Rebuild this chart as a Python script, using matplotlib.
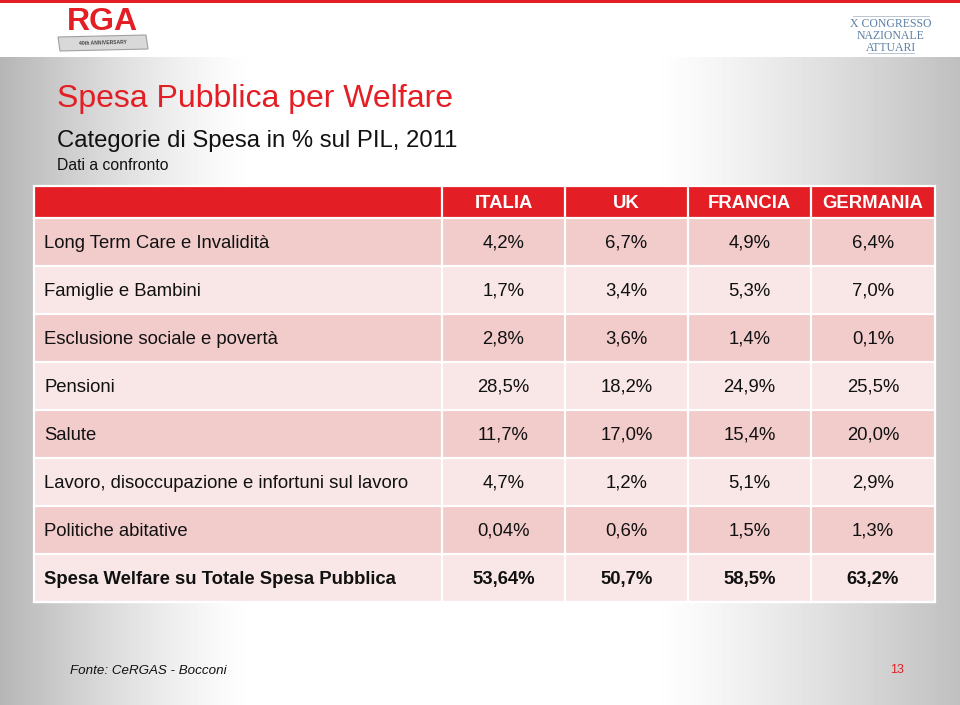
import numpy as np
import matplotlib
matplotlib.use("Agg")
import matplotlib.pyplot as plt
from matplotlib.patches import Rectangle, Polygon

plt.rcParams['font.family'] = ['Liberation Sans', 'DejaVu Sans']

# ---- data ----
title = "Spesa Pubblica per Welfare"
subtitle = "Categorie di Spesa in % sul PIL, 2011"
subsubtitle = "Dati a confronto"
countries = ["ITALIA", "UK", "FRANCIA", "GERMANIA"]
categories = [
    "Long Term Care e Invalidità",
    "Famiglie e Bambini",
    "Esclusione sociale e povertà",
    "Pensioni",
    "Salute",
    "Lavoro, disoccupazione e infortuni sul lavoro",
    "Politiche abitative",
    "Spesa Welfare su Totale Spesa Pubblica",
]
italia = ["4,2%", "1,7%", "2,8%", "28,5%", "11,7%", "4,7%", "0,04%", "53,64%"]
uk = ["6,7%", "3,4%", "3,6%", "18,2%", "17,0%", "1,2%", "0,6%", "50,7%"]
francia = ["4,9%", "5,3%", "1,4%", "24,9%", "15,4%", "5,1%", "1,5%", "58,5%"]
germania = ["6,4%", "7,0%", "0,1%", "25,5%", "20,0%", "2,9%", "1,3%", "63,2%"]
source = "Fonte: CeRGAS - Bocconi"
page = "13"

W, H = 960, 705
fig = plt.figure(figsize=(W / 100, H / 100), dpi=100)
ax = fig.add_axes([0, 0, 1, 1])
ax.set_xlim(0, W)
ax.set_ylim(H, 0)
ax.axis('off')

# ---- background gradient ----
x = np.arange(W)
left = np.clip(1 - x / 255.0, 0, 1)
right = np.clip((x - 650) / 310.0, 0, 1)
shade = 1 - 0.29 * left ** 1.3 - 0.25 * right ** 1.2
bg = np.tile(shade, (H, 1))
bg[:57, :] = 1.0
ax.imshow(bg, cmap='gray', vmin=0, vmax=1, extent=(0, W, H, 0), aspect='auto', zorder=0)
ax.add_patch(Rectangle((0, 0), W, 2.5, color='#e31e24', lw=0, zorder=1))

# ---- logos ----
ax.text(102, 22, "RGA", color='#e31e24', fontsize=23, fontweight='bold',
        ha='center', va='center', zorder=2)
ax.add_patch(Polygon([[58, 37], [146, 35], [148, 49], [60, 51]], closed=True,
                     facecolor='#d9d9d9', edgecolor='#a0a0a0', lw=0.8, zorder=2))
ax.text(103, 43, "40th ANNIVERSARY", color='#444444', fontsize=3.6, fontweight='bold',
        ha='center', va='center', rotation=1.5, zorder=3)
blue = '#5b7ea6'
for i, t in enumerate(["X CONGRESSO", "NAZIONALE", "ATTUARI"]):
    ax.text(891, 24 + i * 12, t, color=blue, fontsize=8.5, family='Liberation Serif',
            ha='center', va='center', zorder=2)
ax.plot([853, 929], [16, 16], color='#b0bccb', lw=0.6, zorder=2)
ax.plot([868, 914], [53, 53], color='#b0bccb', lw=0.6, zorder=2)

# ---- titles ----
ax.text(57, 99, title, color='#e31e24', fontsize=23, ha='left', va='center', zorder=2)
ax.text(57, 141, subtitle, color='#111111', fontsize=17.2, ha='left', va='center', zorder=2)
ax.text(57, 165, subsubtitle, color='#111111', fontsize=11.3, ha='left', va='center', zorder=2)

# ---- table ----
col_x = [34, 442, 565, 688, 811, 935]
header_top, header_bot = 186, 217
row_h = 48
dark = '#f2cbcb'
light = '#f9e6e6'
red = '#e31e24'
fs = 13.3

ax.add_patch(Rectangle((col_x[0], header_top), col_x[-1] - col_x[0], header_bot - header_top,
                       facecolor=red, edgecolor='none', zorder=2))
for j, c in enumerate(countries):
    cx = (col_x[j + 1] + col_x[j + 2]) / 2
    ax.text(cx, (header_top + header_bot) / 2 + 2.5, c, color='white', fontsize=fs,
            fontweight='bold', ha='center', va='center', zorder=4)

cols = [italia, uk, francia, germania]
for i, cat in enumerate(categories):
    y0 = header_bot + 1 + i * row_h
    ax.add_patch(Rectangle((col_x[0], y0), col_x[-1] - col_x[0], row_h,
                           facecolor=dark if i % 2 == 0 else light, edgecolor='none', zorder=2))
    bold = 'bold' if i == len(categories) - 1 else 'normal'
    yc = y0 + row_h / 2 + 1.5
    ax.text(col_x[0] + 10, yc, cat, color='#111111', fontsize=fs, fontweight=bold,
            ha='left', va='center', zorder=4)
    for j, colvals in enumerate(cols):
        cx = (col_x[j + 1] + col_x[j + 2]) / 2
        ax.text(cx, yc, colvals[i], color='#111111', fontsize=fs, fontweight=bold,
                ha='center', va='center', zorder=4)

bottom = header_bot + 1 + len(categories) * row_h
# white grid lines
for cxl in col_x[1:-1]:
    ax.plot([cxl, cxl], [header_top, bottom], color='white', lw=1.6, zorder=3)
for i in range(len(categories) + 1):
    yy = header_bot + 1 + i * row_h
    ax.plot([col_x[0], col_x[-1]], [yy, yy], color='white', lw=1.6, zorder=3)
ax.add_patch(Rectangle((col_x[0], header_top), col_x[-1] - col_x[0], bottom - header_top,
                       facecolor='none', edgecolor='white', lw=1.6, zorder=3))

# ---- footer ----
ax.text(70, 671, source, color='#111111', fontsize=9.6, style='italic',
        ha='left', va='center', zorder=2)
ax.text(897, 670, page, color='#e31e24', fontsize=9, ha='center', va='center', zorder=2)

fig.savefig("out.png", dpi=100)
